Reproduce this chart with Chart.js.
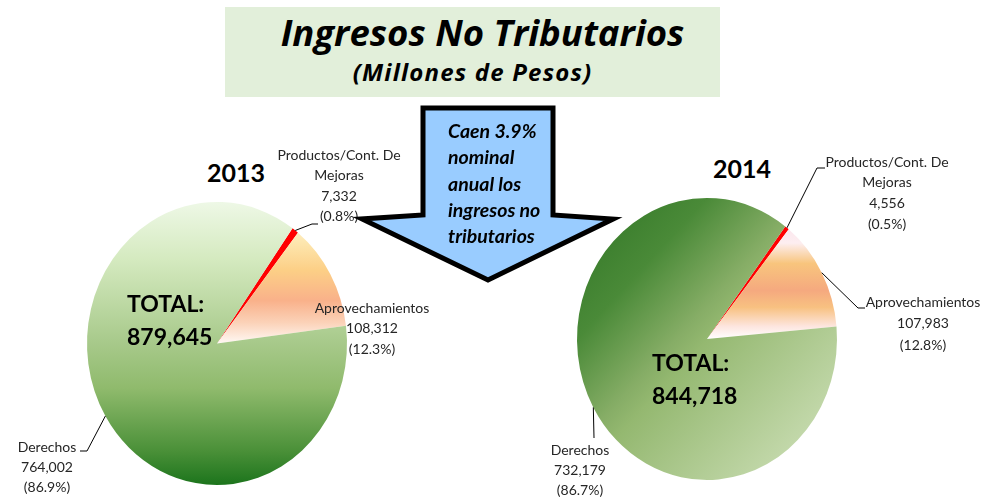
<!DOCTYPE html>
<html>
<head>
<meta charset="utf-8">
<script src="https://cdn.jsdelivr.net/npm/chart.js@4/dist/chart.umd.min.js"></script>
<style>
  body { margin: 0; width: 985px; height: 498px; position: relative; overflow: hidden; background: #fff; font-family: Lato, sans-serif; }
  .abs { position: absolute; }
  #titleBox { left: 225px; top: 7px; width: 495px; height: 90px; background: #e2efda; }
  .bi { font-weight: bold; font-style: italic; color: #000; white-space: nowrap; }
  #title { left: 225px; width: 515px; top: 10px; font-family: "Open Sans", sans-serif; font-size: 36.5px; line-height: 44px; text-align: center; }
  #subtitle { left: 225px; width: 495px; top: 57px; font-family: "Open Sans", sans-serif; font-size: 24px; letter-spacing: 1.2px; line-height: 30px; text-align: center; }
  .year { font-weight: bold; font-size: 25px; line-height: 30px; color: #000; }
  #arrowText { left: 448px; top: 118px; font-size: 19.5px; line-height: 26.3px; z-index: 3; }
  svg { z-index: 2; pointer-events: none; }
</style>
</head>
<body>
<div class="abs" id="titleBox"></div>
<div class="abs bi" id="title">Ingresos No Tributarios</div>
<div class="abs bi" id="subtitle">(Millones de Pesos)</div>
<div class="abs year" id="year0" style="left:207px;top:157px"></div>
<div class="abs year" id="year1" style="left:713px;top:153px"></div>

<canvas class="abs" id="pie2013" width="480" height="358" style="left:0;top:140px"></canvas>
<canvas class="abs" id="pie2014" width="485" height="358" style="left:500px;top:140px"></canvas>

<svg class="abs" width="985" height="498" style="left:0;top:0">
  <polygon points="423,108 553,108 553,215 613,219 488,280 362,219 423,215"
           fill="#99ccff" stroke="#000" stroke-width="5" stroke-linejoin="miter"/>
</svg>
<div class="abs bi" id="arrowText">Caen 3.9%<br>nominal<br>anual los<br>ingresos no<br>tributarios</div>

<script>
// datos
const years = ['2013', '2014']
const categories = [['Productos/Cont. De', 'Mejoras'], ['Aprovechamientos'], ['Derechos']]
const values2013 = [7332, 108312, 764002]
const values2014 = [4556, 107983, 732179]
const totals = [879645, 844718]

document.getElementById('year0').textContent = years[0]
document.getElementById('year1').textContent = years[1]

const fmt = v => v.toLocaleString('en-US')

function vGrad(ctx, y0, y1, stops) {
    const g = ctx.createLinearGradient(0, y0, 0, y1)
    stops.forEach(s => g.addColorStop(s[0], s[1]))
    return g
}
function dGrad(ctx, x0, y0, x1, y1, stops) {
    const g = ctx.createLinearGradient(x0, y0, x1, y1)
    stops.forEach(s => g.addColorStop(s[0], s[1]))
    return g
}

// pinta el pie como elipse (escala en x)
const ellipsePlugin = {
    id: 'ellipse',
    beforeDatasetsDraw(chart, args, opts) {
        const a = chart.chartArea
        const cx = (a.left + a.right) / 2
        const ctx = chart.ctx
        ctx.save()
        ctx.translate(cx, 0)
        ctx.scale(opts.sx, 1)
        ctx.translate(-cx, 0)
    },
    afterDatasetsDraw(chart) {
        chart.ctx.restore()
    }
}

const labelsPlugin = {
    id: 'pieLabels',
    afterDraw(chart, args, opts) {
        const ctx = chart.ctx
        const meta = chart.getDatasetMeta(0)
        const vals = chart.data.datasets[0].data
        const sum = vals.reduce((s, v) => s + v, 0)
        ctx.save()
        ctx.strokeStyle = '#000'
        ctx.lineWidth = 1
        ctx.fillStyle = '#262626'
        ctx.font = '14px Lato'
        ctx.textAlign = 'center'
        ctx.textBaseline = 'middle'
        meta.data.forEach((arc, i) => {
            const spec = opts.specs[i]
            const p = arc.getProps(['x', 'y', 'startAngle', 'endAngle', 'outerRadius'], true)
            const mid = (p.startAngle + p.endAngle) / 2
            const px = p.x + Math.cos(mid) * p.outerRadius * opts.sx
            const py = p.y + Math.sin(mid) * p.outerRadius
            if (spec.line) {
                ctx.beginPath()
                ctx.moveTo(px, py)
                spec.line.forEach(pt => ctx.lineTo(pt[0] - opts.ox, pt[1] - opts.oy))
                ctx.stroke()
            }
            const lines = categories[i].concat([fmt(vals[i]), '(' + (vals[i] / sum * 100).toFixed(1) + '%)'])
            lines.forEach((t, k) => ctx.fillText(t, spec.x - opts.ox, spec.y - opts.oy + k * spec.lh))
        })
        // total
        ctx.fillStyle = '#000'
        ctx.font = 'bold 23px Lato'
        ctx.textAlign = 'left'
        ctx.fillText('TOTAL:', opts.total.x - opts.ox, opts.total.y - opts.oy)
        ctx.fillText(fmt(opts.totalValue), opts.total.x - opts.ox, opts.total.y - opts.oy + opts.total.lh)
        ctx.restore()
    }
}

function makePie(id, values, cfg) {
    const el = document.getElementById(id)
    return new Chart(el.getContext('2d'), {
        type: 'pie',
        data: {
            labels: categories.map(c => c.join(' ')),
            datasets: [{
                data: values,
                borderWidth: 0,
                hoverOffset: 0,
                radius: cfg.r,
                backgroundColor: function (c) {
                    const chart = c.chart
                    const a = chart.chartArea
                    if (!a) return '#9c9'
                    const cx = (a.left + a.right) / 2
                    const cy = (a.top + a.bottom) / 2
                    return cfg.fills[c.dataIndex](chart.ctx, cx, cy, cfg.r)
                }
            }]
        },
        options: {
            responsive: false,
            animation: false,
            events: [],
            rotation: cfg.rotation,
            layout: { padding: cfg.padding },
            plugins: {
                legend: { display: false },
                tooltip: { enabled: false },
                ellipse: { sx: cfg.sx },
                pieLabels: {
                    sx: cfg.sx, ox: cfg.ox, oy: cfg.oy,
                    specs: cfg.specs, total: cfg.total, totalValue: cfg.totalValue
                }
            }
        },
        plugins: [ellipsePlugin, labelsPlugin]
    })
}

const red = () => '#ff0000'

makePie('pie2013', values2013, {
    r: 141.5, sx: 130 / 141.5, ox: 0, oy: 140, rotation: 35.5,
    padding: { top: 62, bottom: 13, left: 0, right: 46 },
    totalValue: totals[0],
    total: { x: 127, y: 305, lh: 33 },
    specs: [
        { x: 339, y: 155, lh: 20.5, line: [[312, 224], [318, 224]] },
        { x: 372, y: 308, lh: 20.5 },
        { x: 47, y: 447, lh: 20, line: [[87, 451], [80, 451]] }
    ],
    fills: [
        red,
        (ctx, cx, cy, r) => vGrad(ctx, cy - 0.82 * r, cy, [[0, '#fdefc8'], [0.13, '#fde6ae'], [0.37, '#fccf86'], [0.63, '#f9b18a'], [0.82, '#fbd2b8'], [1, '#fff8f4']]),
        (ctx, cx, cy, r) => vGrad(ctx, cy - r, cy + r, [[0, '#eef8e6'], [0.2, '#d5eac0'], [0.5, '#a7c98a'], [0.66, '#8fba6c'], [0.88, '#4a9038'], [1, '#1c741c']])
    ]
})

makePie('pie2014', values2014, {
    r: 141, sx: 130 / 141, ox: 500, oy: 140, rotation: 37,
    padding: { top: 58, bottom: 18, left: 0, right: 71 },
    totalValue: totals[1],
    total: { x: 652, y: 364, lh: 33 },
    specs: [
        { x: 887, y: 162, lh: 20.7, line: [[817, 168], [825, 168]] },
        { x: 923, y: 302, lh: 21.5, line: [[858, 308], [865, 308]] },
        { x: 580, y: 450, lh: 20, line: [[594, 438]] }
    ],
    fills: [
        red,
        (ctx, cx, cy, r) => vGrad(ctx, cy - 0.8 * r, cy, [[0, '#fbe6ee'], [0.15, '#fdeef0'], [0.33, '#f8c57d'], [0.57, '#f5a97f'], [0.72, '#f8c181'], [0.89, '#fde6e0'], [1, '#ffffff']]),
        (ctx, cx, cy, r) => dGrad(ctx, cx - r, cy - r, cx + r, cy + r, [[0, '#2e7424'], [0.25, '#4a8a38'], [0.44, '#86ad66'], [0.5, '#94b870'], [0.87, '#c4d9ac'], [1, '#d2e4bf']])
    ]
})
</script>
</body>
</html>
